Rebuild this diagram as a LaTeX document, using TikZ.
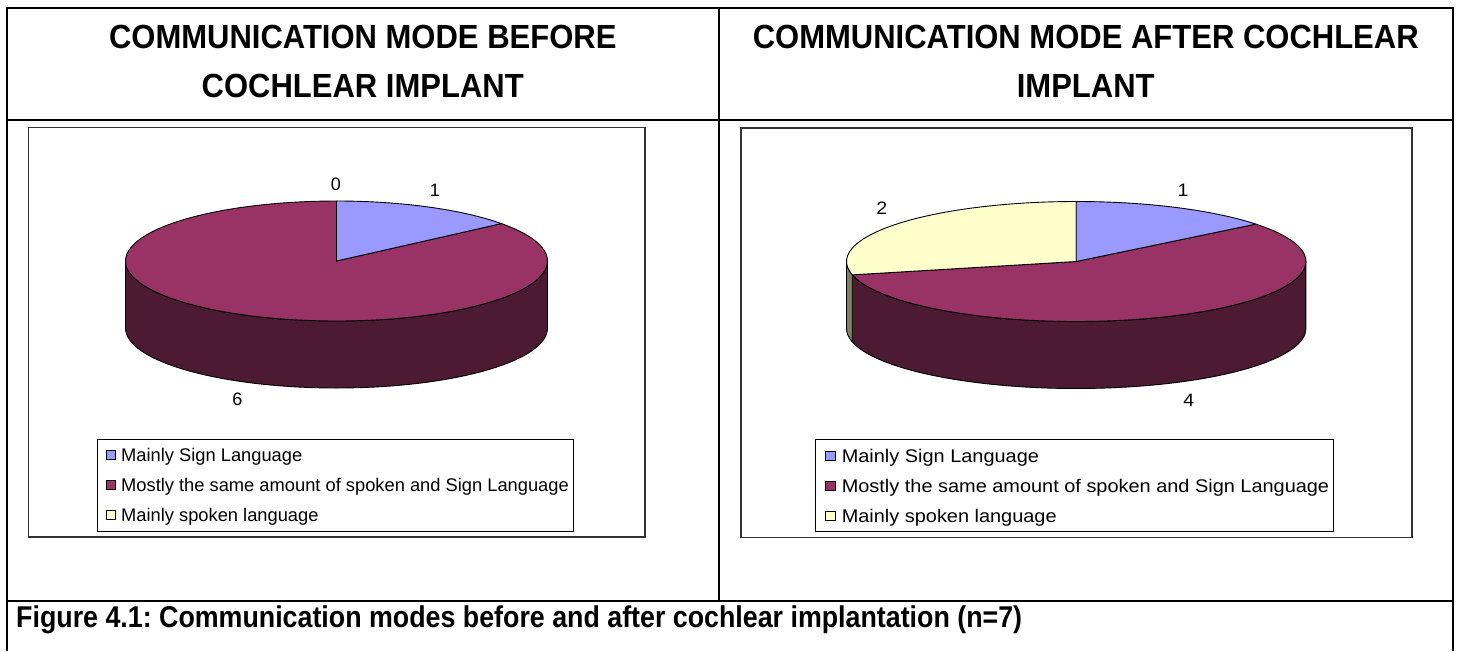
\documentclass[tikz,border=0pt]{standalone}
\usepackage{fontspec}
\setmainfont{Liberation Sans}
\frenchspacing
\definecolor{pblue}{HTML}{9999FF}
\definecolor{pmaroon}{HTML}{993366}
\definecolor{pmaroonside}{HTML}{4C1A33}
\definecolor{pyellow}{HTML}{FFFFCC}
\definecolor{pyellowside}{HTML}{808066}
\tikzset{
  tableline/.style={line width=2pt, draw=black},
  chartframe/.style={draw=black!80, line width=1.6pt},
  legendframe/.style={draw=black, line width=0.8pt},
  pieedge/.style={draw=black, line width=0.9pt, line join=round},
  hdr/.style={font=\fontsize{31}{37}\selectfont\bfseries, inner sep=0pt, anchor=base, yscale=1.08, transform shape},
  captext/.style={font=\fontsize{26.8}{32}\selectfont\bfseries, inner sep=0pt, anchor=base west, yscale=1.12, transform shape},
  lbl/.style={font=\fontsize{18}{22}\selectfont, inner sep=0pt, transform shape},
  legtext/.style={font=\fontsize{18.3}{22}\selectfont, inner sep=0pt, anchor=base west, transform shape},
  legmark/.style={draw=black, line width=0.7pt}
}
\begin{document}
\begin{tikzpicture}[x=1pt,y=-1pt]
\useasboundingbox (0,0) rectangle (1460,651);
\fill[white] (0,0) rectangle (1460,651);
% table lines
\draw[tableline] (6.5,651) -- (6.5,8) -- (1452.5,8) -- (1452.5,651);
\draw[tableline] (6.5,120) -- (1452.5,120);
\draw[tableline] (719,8) -- (719,601);
\draw[tableline] (6.5,601) -- (1452.5,601);
% headers
\node[hdr] (h1a) at (362.75,48) {COMMUNICATION MODE BEFORE};
\node[hdr] (h1b) at (362.75,97) {COCHLEAR IMPLANT};
\node[hdr] (h2a) at (1085.75,48) {COMMUNICATION MODE AFTER COCHLEAR};
\node[hdr] (h2b) at (1085.75,97) {IMPLANT};
% caption
\node[captext] (cap) at (16,627) {Figure 4.1: Communication modes before and after cochlear implantation (n=7)};

% ---------- left chart ----------
\begin{scope}[shift={(28.6,127.5)}]
  \draw[chartframe] (0,0) rectangle (616.4,409.5);
  \begin{scope}[shift={(307.9,133.5)}, y=1pt]
    \filldraw[pieedge, fill=pmaroonside] (-211,0) -- (-211,-67)
      arc[start angle=180, end angle=360, x radius=211pt, y radius=60pt]
      -- (211,0) arc[start angle=0, end angle=-180, x radius=211pt, y radius=60pt] -- cycle;
    \filldraw[pieedge, fill=pmaroon] (0,0) -- ({211*cos(38.57)},{60*sin(38.57)})
      arc[start angle=38.57, end angle=-270, x radius=211pt, y radius=60pt] -- cycle;
    \filldraw[pieedge, fill=pblue] (0,0) -- (0,60)
      arc[start angle=90, end angle=38.57, x radius=211pt, y radius=60pt] -- cycle;
  \end{scope}
  \node[lbl] (la0) at (307.4,56.5) {0};
  \node[lbl] (la1) at (406.4,62.5) {1};
  \node[lbl] (la6) at (208.9,271.5) {6};
  \draw[legendframe] (68.4,311.5) rectangle (544.4,403.5);
  \filldraw[legmark, fill=pblue] (77.5,323) rectangle (86.5,332);
  \filldraw[legmark, fill=pmaroon] (77.5,353) rectangle (86.5,362);
  \filldraw[legmark, fill=pyellow] (77.5,383) rectangle (86.5,392);
  \node[legtext] (lta) at (92.4,334) {Mainly Sign Language};
  \node[legtext] (ltb) at (92.4,364) {Mostly the same amount of spoken and Sign Language};
  \node[legtext] (ltc) at (92.4,394) {Mainly spoken language};
\end{scope}

% ---------- right chart ----------
\begin{scope}[shift={(741,128)}, xscale=1.0887]
  \draw[chartframe] (0,0) rectangle (616.4,409.5);
  \begin{scope}[shift={(307.9,133.5)}, y=1pt]
    \filldraw[pieedge, fill=pmaroonside] ({-211*cos(12.86)},{-60*sin(12.86)}) -- ++(0,-67)
      arc[start angle=192.86, end angle=360, x radius=211pt, y radius=60pt]
      -- (211,0) arc[start angle=0, end angle=-167.14, x radius=211pt, y radius=60pt] -- cycle;
    \filldraw[pieedge, fill=pyellowside] (-211,0) -- (-211,-67)
      arc[start angle=180, end angle=192.86, x radius=211pt, y radius=60pt]
      -- ++(0,67) arc[start angle=192.86, end angle=180, x radius=211pt, y radius=60pt] -- cycle;
    \filldraw[pieedge, fill=pmaroon] (0,0) -- ({211*cos(38.57)},{60*sin(38.57)})
      arc[start angle=38.57, end angle=-167.14, x radius=211pt, y radius=60pt] -- cycle;
    \filldraw[pieedge, fill=pyellow] (0,0) -- ({-211*cos(12.86)},{-60*sin(12.86)})
      arc[start angle=192.86, end angle=90, x radius=211pt, y radius=60pt] -- cycle;
    \filldraw[pieedge, fill=pblue] (0,0) -- (0,60)
      arc[start angle=90, end angle=38.57, x radius=211pt, y radius=60pt] -- cycle;
  \end{scope}
  \node[lbl] (lb1) at (406,62.5) {1};
  \node[lbl] (lb2) at (129.4,80) {2};
  \node[lbl] (lb4) at (411.4,272) {4};
  \draw[legendframe] (68.4,311.5) rectangle (544.4,403.5);
  \filldraw[legmark, fill=pblue] (77.5,323) rectangle (86.5,332);
  \filldraw[legmark, fill=pmaroon] (77.5,353) rectangle (86.5,362);
  \filldraw[legmark, fill=pyellow] (77.5,383) rectangle (86.5,392);
  \node[legtext] (rta) at (92.4,334) {Mainly Sign Language};
  \node[legtext] (rtb) at (92.4,364) {Mostly the same amount of spoken and Sign Language};
  \node[legtext] (rtc) at (92.4,394) {Mainly spoken language};
\end{scope}
\end{tikzpicture}
\end{document}
